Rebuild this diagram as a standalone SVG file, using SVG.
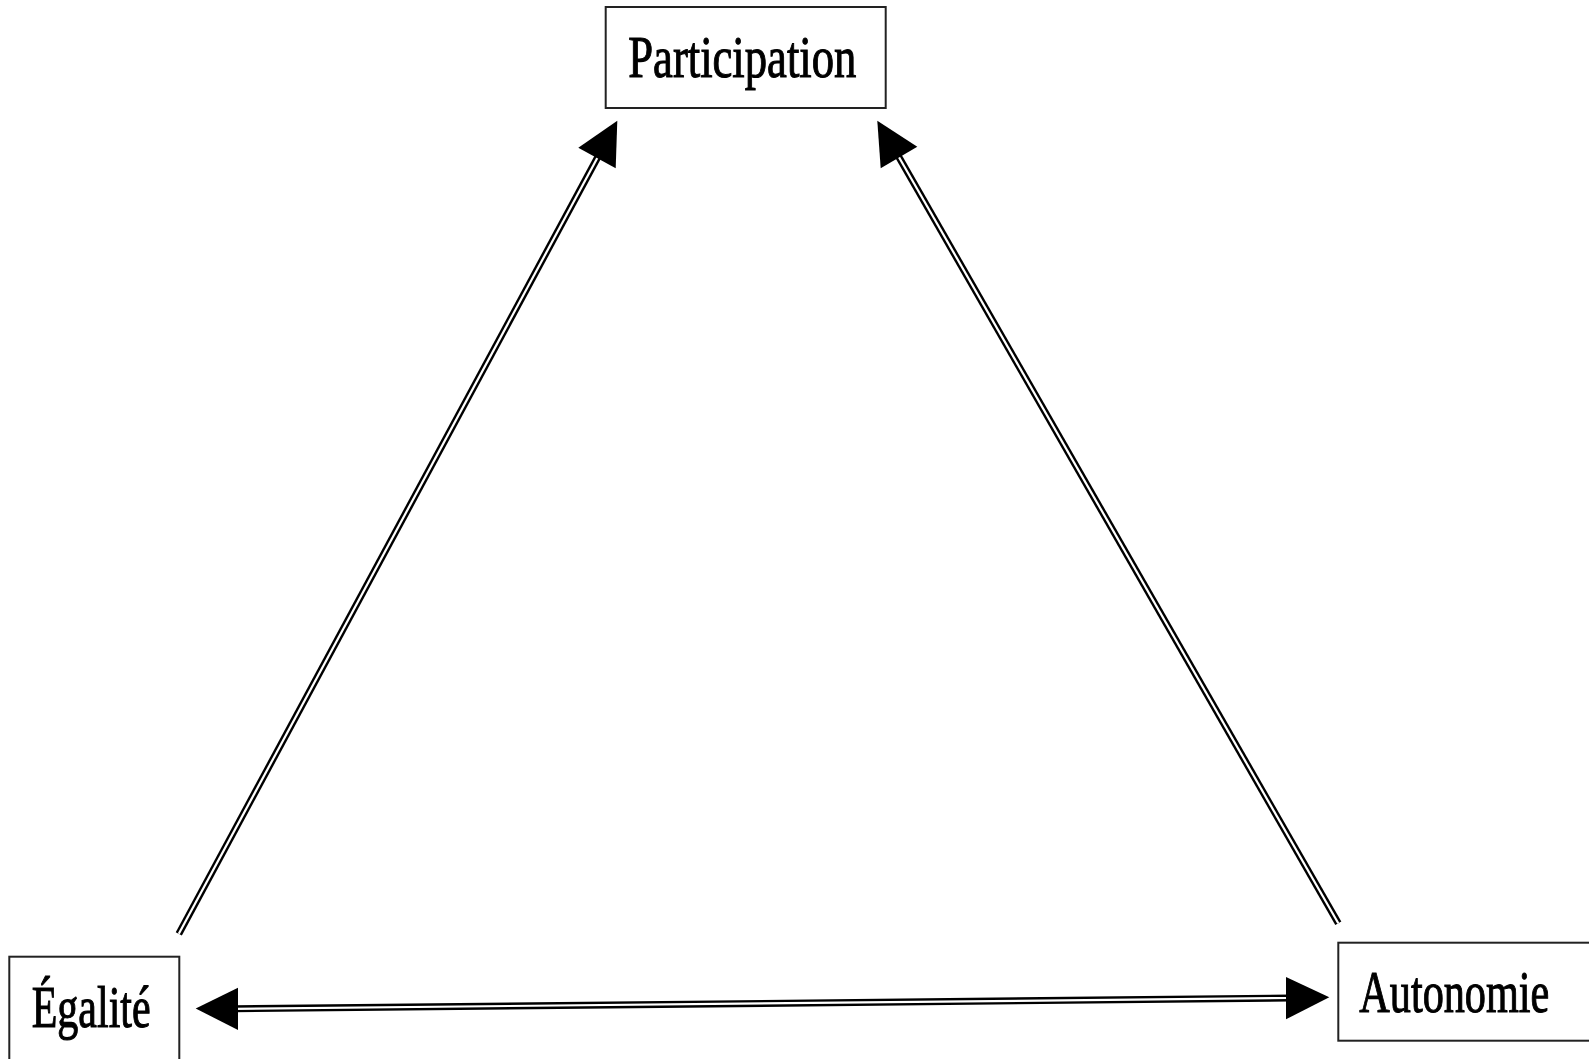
<svg xmlns="http://www.w3.org/2000/svg" width="1589" height="1059" viewBox="0 0 1589 1059">
<style>
.box{fill:#fff;stroke:#222;stroke-width:2}
.lbl{font-family:"Liberation Serif","DejaVu Serif",serif;font-size:60px;fill:#000;stroke:#000;stroke-width:1.1}
.outer{stroke:#000;stroke-width:7;fill:none}
.inner{stroke:#fff;stroke-width:2.2;fill:none}
.head{fill:#000}
</style>
<rect width="1589" height="1059" fill="#fff"/>
<g id="connectors">
<line class="outer" x1="178.8" y1="933.8" x2="600" y2="153"/>
<line class="inner" x1="178.8" y1="933.8" x2="600" y2="153"/>
<polygon class="head" points="617.3,120.7 578.3,147.7 615.7,168.3"/>
<line class="outer" x1="1338.3" y1="923.3" x2="896" y2="152"/>
<line class="inner" x1="1338.3" y1="923.3" x2="896" y2="152"/>
<polygon class="head" points="877.3,120.7 880.7,168.3 917.3,146.7"/>
<line class="outer" x1="234" y1="1008.8" x2="1290" y2="998"/>
<line class="inner" x1="234" y1="1008.8" x2="1290" y2="998"/>
<polygon class="head" points="195.7,1008.5 238,987.7 238,1030"/>
<polygon class="head" points="1329.3,997.3 1286,977 1286,1019.3"/>
</g>
<g id="participation">
<rect class="box" x="605.7" y="7" width="280" height="101"/>
<text class="lbl" x="628.3" y="76.7" textLength="228" lengthAdjust="spacingAndGlyphs">Participation</text>
</g>
<g id="egalite">
<rect class="box" x="9.3" y="956.7" width="170" height="130"/>
<text class="lbl" x="31.7" y="1026.7" textLength="119" lengthAdjust="spacingAndGlyphs">Égalité</text>
</g>
<g id="autonomie">
<rect class="box" x="1338.3" y="942.7" width="280" height="98"/>
<text class="lbl" x="1359.3" y="1011.7" textLength="190" lengthAdjust="spacingAndGlyphs">Autonomie</text>
</g>
</svg>
